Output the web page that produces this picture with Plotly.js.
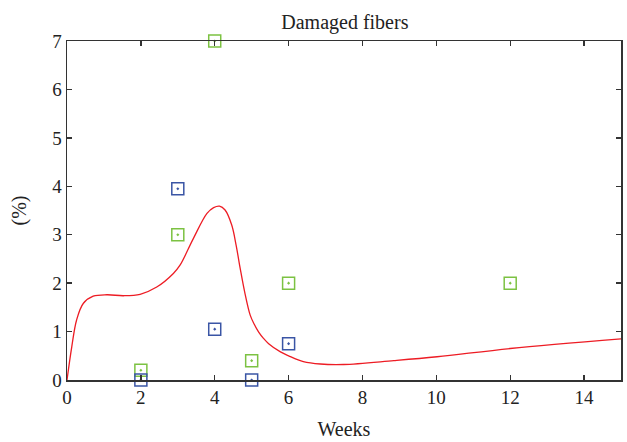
<!DOCTYPE html>
<html><head><meta charset="utf-8">
<script src="https://cdn.plot.ly/plotly-3.0.1.min.js"></script>
<style>html,body{margin:0;padding:0;background:#fff}#c{width:627px;height:442px}</style>
</head><body><div id="c"></div>
<script>
const greenX = [2, 3, 4, 5, 6, 12];
const greenY = [0.2, 3.0, 7.0, 0.4, 2.0, 2.0];
const blueX = [2, 3, 4, 5, 6];
const blueY = [0.0, 3.95, 1.05, 0.0, 0.75];
const fitX = [0, 0.13, 0.26, 0.44, 0.71, 1.08, 1.53, 1.98, 2.43, 2.88, 3.06, 3.42, 3.79, 3.97, 4.13, 4.28, 4.46, 4.58, 4.69, 4.81, 4.96, 5.07, 5.19, 5.32, 5.46, 5.78, 6.0, 6.4, 6.86, 7.49, 8.85, 10.02, 12.0, 15.0];
const fitY = [0, 0.69, 1.24, 1.58, 1.73, 1.76, 1.74, 1.77, 1.92, 2.2, 2.37, 2.92, 3.44, 3.56, 3.59, 3.51, 3.2, 2.78, 2.3, 1.82, 1.34, 1.15, 0.99, 0.86, 0.75, 0.58, 0.5, 0.38, 0.33, 0.32, 0.4, 0.48, 0.65, 0.85];
const xTicks = [0, 2, 4, 6, 8, 10, 12, 14];
const yTicks = [0, 1, 2, 3, 4, 5, 6, 7];

const fam = '"Liberation Serif", "DejaVu Serif", serif';
const traces = [
  {x: fitX, y: fitY, mode: 'lines', line: {color: '#ed1c24', width: 1.3, shape: 'spline', smoothing: 1}, hoverinfo: 'none'},
  {x: greenX, y: greenY, mode: 'markers', cliponaxis: false,
   marker: {symbol: 'square-open-dot', size: 12, color: '#7cc242', line: {width: 1.5, color: '#7cc242'}}},
  {x: blueX, y: blueY, mode: 'markers', cliponaxis: false,
   marker: {symbol: 'square-open-dot', size: 12, color: '#3a55a5', line: {width: 1.5, color: '#3a55a5'}}}
];
const axisCommon = {showgrid: false, zeroline: false, showline: true, linecolor: '#333', linewidth: 1.5,
  mirror: 'ticks', ticks: 'inside', ticklen: 5, tickwidth: 1.3, tickcolor: '#333',
  tickfont: {family: fam, size: 19, color: '#222'}};
const layout = {
  width: 627, height: 442, showlegend: false,
  paper_bgcolor: '#fff', plot_bgcolor: '#fff',
  margin: {l: 67, r: 6, t: 41, b: 62},
  title: {text: 'Damaged fibers', font: {family: fam, size: 20, color: '#222'}, x: 0.55, xanchor: 'center', y: 0.95, yanchor: 'middle'},
  xaxis: Object.assign({}, axisCommon, {range: [0, 15], tickvals: xTicks, ticktext: xTicks.map(String),
    title: {text: 'Weeks', font: {family: fam, size: 20, color: '#222'}, standoff: 14}}),
  yaxis: Object.assign({}, axisCommon, {range: [0, 7], tickvals: yTicks, ticktext: yTicks.map(String),
    title: {text: '(%)', font: {family: fam, size: 20, color: '#222'}, standoff: 20}})
};
Plotly.newPlot('c', traces, layout, {staticPlot: true});
</script></body></html>
